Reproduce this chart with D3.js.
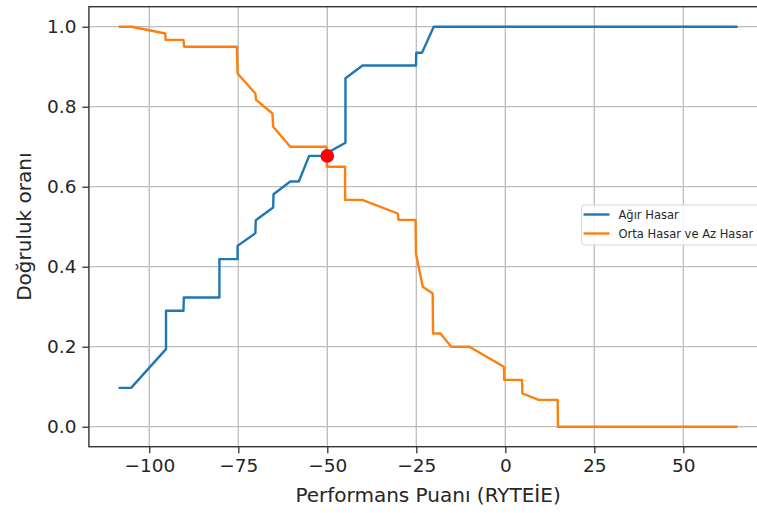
<!DOCTYPE html>
<html>
<head>
<meta charset="utf-8">
<script src="https://cdn.jsdelivr.net/npm/d3@7"></script>
<style>
  html, body { margin: 0; padding: 0; background: #fff; }
  svg { display: block; font-family: "DejaVu Sans", sans-serif; }
</style>
</head>
<body>
<svg id="chart" width="757" height="513"></svg>
<script>
// Accuracy vs. performance-score threshold for the two damage classes
const agirScore = [-108.3, -105.1, -95.3, -95.3, -90.4, -90.3, -80.3, -80.3, -75.2, -75.2,
                   -70.2, -70.1, -65.2, -65.1, -60.4, -58.0, -55.1, -51.5, -44.9, -44.9,
                   -40.1, -25.1, -25.0, -23.4, -20.1, 64.9];
const agirAcc   = [0.097, 0.097, 0.194, 0.290, 0.290, 0.323, 0.323, 0.419, 0.419, 0.452,
                   0.484, 0.516, 0.548, 0.581, 0.613, 0.613, 0.677, 0.677, 0.710, 0.871,
                   0.903, 0.903, 0.935, 0.935, 1.000, 1.000];

const ortaScore = [-108.3, -104.9, -95.5, -95.4, -90.4, -90.2, -75.4, -75.2, -70.2, -70.0,
                   -65.4, -65.2, -60.4, -50.3, -50.1, -45.0, -45.0, -40.2, -30.2, -30.0,
                   -25.2, -25.1, -23.2, -20.4, -20.3, -18.2, -15.2, -10.1, -0.4, -0.3,
                   4.7, 4.8, 9.4, 14.7, 14.8, 64.9];
const ortaAcc   = [1.000, 1.000, 0.983, 0.967, 0.967, 0.950, 0.950, 0.883, 0.833, 0.817,
                   0.783, 0.750, 0.700, 0.700, 0.650, 0.650, 0.567, 0.567, 0.533, 0.517,
                   0.517, 0.433, 0.350, 0.333, 0.233, 0.233, 0.200, 0.200, 0.150, 0.117,
                   0.117, 0.083, 0.067, 0.067, 0.000, 0.000];

// Threshold where the two curves cross
const crossScore = [-50];
const crossAcc   = [0.677];

const xTicks = [-100, -75, -50, -25, 0, 25, 50];
const yTicks = [0.0, 0.2, 0.4, 0.6, 0.8, 1.0];
const seriesNames  = ["Ağır Hasar", "Orta Hasar ve Az Hasar"];
const seriesColors = ["#1f77b4", "#ff7f0e"];

const svg = d3.select("#chart");

const x = d3.scaleLinear().domain([-116.96, 73.56]).range([88.9, 767.2]);
const y = d3.scaleLinear().domain([-0.05, 1.05]).range([446.7, 6.7]);

const plotL = x.range()[0], plotR = x.range()[1];
const plotB = y.range()[0], plotT = y.range()[1];

// grid
const grid = svg.append("g").attr("stroke", "#bdbdbd").attr("stroke-width", 1.3);
grid.selectAll("line.gx").data(xTicks).join("line")
  .attr("x1", d => x(d)).attr("x2", d => x(d))
  .attr("y1", plotT).attr("y2", plotB);
grid.selectAll("line.gy").data(yTicks).join("line")
  .attr("y1", d => y(d)).attr("y2", d => y(d))
  .attr("x1", plotL).attr("x2", plotR);

// axes
const fmtX = d => (d < 0 ? "\u2212" + Math.abs(d) : String(d));
const xAxis = svg.append("g").attr("transform", `translate(0,${plotB})`)
  .call(d3.axisBottom(x).tickValues(xTicks).tickFormat(fmtX).tickSize(6.5).tickPadding(6));
const yAxis = svg.append("g").attr("transform", `translate(${plotL},0)`)
  .call(d3.axisLeft(y).tickValues(yTicks).tickFormat(d3.format(".1f")).tickSize(6.5).tickPadding(6));

[xAxis, yAxis].forEach(a => {
  a.select(".domain").remove();
  a.selectAll(".tick line").attr("stroke", "#333").attr("stroke-width", 1.3);
  a.selectAll(".tick text").attr("fill", "#262626")
    .style("font-family", "'DejaVu Sans', sans-serif").style("font-size", "18.5px");
});

// spines
const spines = svg.append("g").attr("stroke", "#333").attr("stroke-width", 1.4).attr("fill", "none");
spines.append("rect").attr("x", plotL).attr("y", plotT)
  .attr("width", plotR - plotL).attr("height", plotB - plotT);

// curves
const line = d3.line().x(d => x(d[0])).y(d => y(d[1]));
const series = [d3.zip(agirScore, agirAcc), d3.zip(ortaScore, ortaAcc)];
svg.append("g").selectAll("path").data(series).join("path")
  .attr("d", line)
  .attr("fill", "none")
  .attr("stroke", (d, i) => seriesColors[i])
  .attr("stroke-width", 2.4)
  .attr("stroke-linejoin", "round")
  .attr("stroke-linecap", "square");

// crossing point
svg.append("g").selectAll("circle").data(d3.zip(crossScore, crossAcc)).join("circle")
  .attr("cx", d => x(d[0])).attr("cy", d => y(d[1]))
  .attr("r", 6.8).attr("fill", "#ff0000");

// axis titles
svg.append("text")
  .attr("x", (plotL + plotR) / 2).attr("y", 502)
  .attr("text-anchor", "middle").attr("fill", "#262626")
  .style("font-size", "20px")
  .text("Performans Puanı (RYTEİE)");
svg.append("text")
  .attr("transform", `translate(31,${(plotT + plotB) / 2}) rotate(-90)`)
  .attr("text-anchor", "middle").attr("fill", "#262626")
  .style("font-size", "20px")
  .text("Doğruluk oranı");

// legend
const lg = svg.append("g").attr("transform", "translate(581.5,205)");
lg.append("rect").attr("width", 185).attr("height", 40).attr("rx", 3)
  .attr("fill", "#fff").attr("fill-opacity", 0.85)
  .attr("stroke", "#d6d6d6").attr("stroke-width", 1);
const items = lg.selectAll("g.item").data(seriesNames).join("g")
  .attr("transform", (d, i) => `translate(0,${9.5 + i * 19})`);
items.append("line").attr("x1", 2).attr("x2", 28)
  .attr("stroke", (d, i) => seriesColors[i]).attr("stroke-width", 2.4);
items.append("text").attr("x", 37).attr("y", 4)
  .attr("fill", "#262626").style("font-size", "11.5px")
  .text(d => d);
</script>
</body>
</html>
